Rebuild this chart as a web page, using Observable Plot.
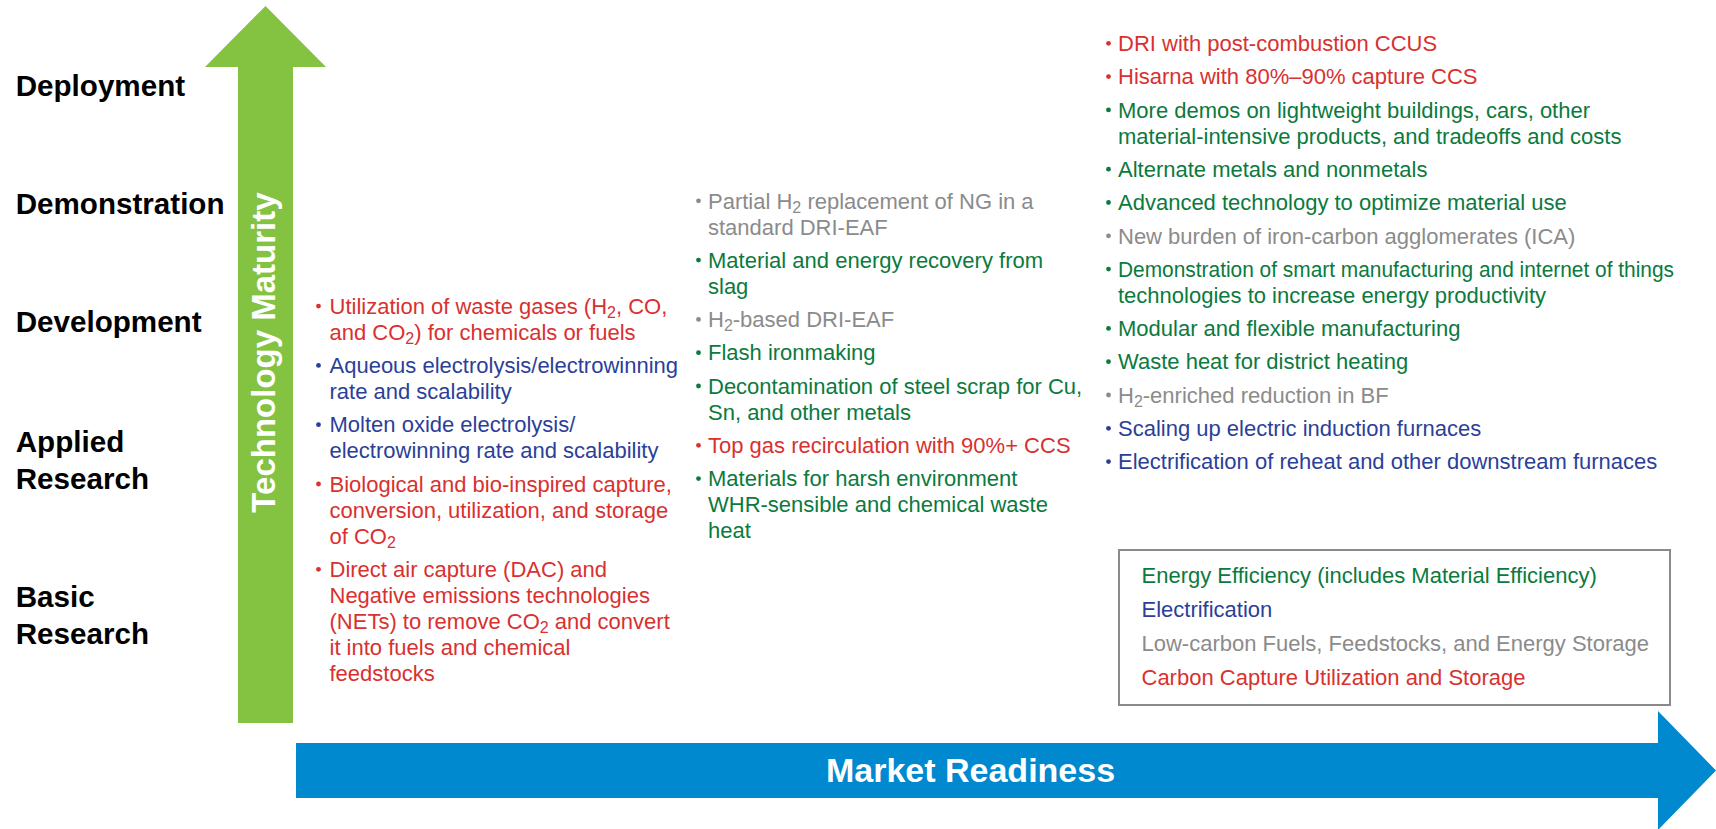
<!DOCTYPE html>
<html>
<head>
<meta charset="utf-8">
<script src="https://cdn.jsdelivr.net/npm/d3@7"></script>
<script src="https://cdn.jsdelivr.net/npm/@observablehq/plot@0.6"></script>
<style>
  html, body { margin: 0; padding: 0; background: #fff; overflow: hidden; }
  #chart svg { display: block; }
</style>
</head>
<body>
<div id="chart"></div>
<script>
// ---------------- DATA ----------------
const stageLabels = ["Deployment", "Demonstration", "Development", "Applied\nResearch", "Basic\nResearch"];

const axisTitles = ["Technology Maturity", "Market Readiness"];

const categoryKeys = ["EE", "EL", "LC", "CCUS"];
const categoryNames = [
  "Energy Efficiency (includes Material Efficiency)",
  "Electrification",
  "Low-carbon Fuels, Feedstocks, and Energy Storage",
  "Carbon Capture Utilization and Storage"
];

const col1Texts = [
  "Utilization of waste gases (H₂, CO,\nand CO₂) for chemicals or fuels",
  "Aqueous electrolysis/electrowinning\nrate and scalability",
  "Molten oxide electrolysis/\nelectrowinning rate and scalability",
  "Biological and bio-inspired capture,\nconversion, utilization, and storage\nof CO₂",
  "Direct air capture (DAC) and\nNegative emissions technologies\n(NETs) to remove CO₂ and convert\nit into fuels and chemical\nfeedstocks"
];
const col1Cats = ["CCUS", "EL", "EL", "CCUS", "CCUS"];

const col2Texts = [
  "Partial H₂ replacement of NG in a\nstandard DRI-EAF",
  "Material and energy recovery from\nslag",
  "H₂-based DRI-EAF",
  "Flash ironmaking",
  "Decontamination of steel scrap for Cu,\nSn, and other metals",
  "Top gas recirculation with 90%+ CCS",
  "Materials for harsh environment\nWHR-sensible and chemical waste\nheat"
];
const col2Cats = ["LC", "EE", "LC", "EE", "EE", "CCUS", "EE"];

const col3Texts = [
  "DRI with post-combustion CCUS",
  "Hisarna with 80%–90% capture CCS",
  "More demos on lightweight buildings, cars, other\nmaterial-intensive products, and tradeoffs and costs",
  "Alternate metals and nonmetals",
  "Advanced technology to optimize material use",
  "New burden of iron-carbon agglomerates (ICA)",
  "Demonstration of smart manufacturing and internet of things\ntechnologies to increase energy productivity",
  "Modular and flexible manufacturing",
  "Waste heat for district heating",
  "H₂-enriched reduction in BF",
  "Scaling up electric induction furnaces",
  "Electrification of reheat and other downstream furnaces"
];
const col3Cats = ["CCUS", "CCUS", "EE", "EE", "EE", "LC", "EE", "EE", "EE", "LC", "EL", "EL"];

// ---------------- STYLE / LAYOUT ----------------
const W = 1716, H = 829;
const FONT = "'Liberation Sans', Arial, Helvetica, sans-serif";
const categoryColors = ["#0b7a3e", "#2b3f99", "#8b8b8b", "#d8312f"];
const FS = 22, LINE = 26, STEP = 33.3;

const stageLayout = { x: 15.2, baselines: [95, 213, 331, 451, 606], fs: 29.6, line: 37 };
const columnLayout = [
  { bulletX: 318, textX: 329, first: 313.3 },
  { bulletX: 698, textX: 707.5, first: 208 },
  { bulletX: 1108, textX: 1117.5, first: 50.5 }
];
const legendLayout = { x1: 1119, x2: 1670, y1: 550, y2: 705, textX: 1141, first: 582, step: 34 };
const fitWidths = { "Demonstration of smart manufacturing and internet of things": 556 };
const greenArrowShape = [
  { y: 6, x1: 265.5, x2: 265.5 },
  { y: 67, x1: 205, x2: 326 },
  { y: 67, x1: 238, x2: 293 },
  { y: 723, x1: 238, x2: 293 }
];
const blueArrowShape = [
  { x: 296, y1: 743, y2: 798 },
  { x: 1658, y1: 743, y2: 798 },
  { x: 1658, y1: 711, y2: 830 },
  { x: 1716, y1: 770.5, y2: 770.5 }
];
const titleLayout = [
  { x: 274, y: 352, rotate: -90, fs: 33 },
  { x: 970, y: 781.5, rotate: 0, fs: 34 }
];

// ---------------- BUILD ----------------
function layoutColumn(texts, cats, L) {
  let y = L.first;
  return texts.map((t, i) => {
    const n = t.split("\n").length;
    const item = { text: t, cat: cats[i], x: L.textX, bx: L.bulletX, y0: y, yLast: y + (n - 1) * LINE };
    y += (n - 1) * LINE + STEP;
    return item;
  });
}
const items = [
  ...layoutColumn(col1Texts, col1Cats, columnLayout[0]),
  ...layoutColumn(col2Texts, col2Cats, columnLayout[1]),
  ...layoutColumn(col3Texts, col3Cats, columnLayout[2])
];

const stages = stageLabels.map((s, i) => ({
  text: s, x: stageLayout.x,
  y: stageLayout.baselines[i] + (s.split("\n").length - 1) * stageLayout.line
}));

const legendItems = categoryNames.map((name, i) => ({
  text: name, cat: categoryKeys[i], x: legendLayout.textX, y: legendLayout.first + i * legendLayout.step
}));

const titles = axisTitles.map((t, i) => ({ text: t, ...titleLayout[i] }));

const chart = Plot.plot({
  width: W, height: H,
  margin: 0,
  x: { domain: [0, W], range: [0, W], axis: null },
  y: { domain: [0, H], range: [0, H], axis: null },
  color: { domain: categoryKeys, range: categoryColors },
  style: { background: "#fff", overflow: "visible" },
  marks: [
    Plot.areaX(greenArrowShape, { y: "y", x1: "x1", x2: "x2", fill: "#84c341" }),
    Plot.areaY(blueArrowShape, { x: "x", y1: "y1", y2: "y2", fill: "#0089cf" }),
    Plot.text(titles.filter(d => d.rotate !== 0), {
      x: "x", y: "y", text: "text", rotate: -90, fill: "white", fontWeight: "bold",
      fontSize: titles[0].fs, fontFamily: FONT, textAnchor: "middle", lineAnchor: "bottom"
    }),
    Plot.text(titles.filter(d => d.rotate === 0), {
      x: "x", y: "y", text: "text", fill: "white", fontWeight: "bold",
      fontSize: titles[1].fs, fontFamily: FONT, textAnchor: "middle", lineAnchor: "bottom"
    }),
    Plot.text(stages, {
      x: "x", y: "y", text: "text", fill: "#000", fontWeight: "bold",
      fontSize: stageLayout.fs, lineHeight: stageLayout.line / stageLayout.fs,
      fontFamily: FONT, textAnchor: "start", lineAnchor: "bottom"
    }),
    Plot.dot(items, { x: "bx", y: d => d.y0 - 7.7, r: 2.4, fill: "cat", stroke: null }),
    Plot.text(items, {
      x: "x", y: "yLast", text: "text", fill: "cat",
      fontSize: FS, lineHeight: LINE / FS, fontFamily: FONT,
      textAnchor: "start", lineAnchor: "bottom"
    }),
    Plot.rect([legendLayout], {
      x1: "x1", x2: "x2", y1: "y1", y2: "y2", fill: "none", stroke: "#8a8a8a", strokeWidth: 2
    }),
    Plot.text(legendItems, {
      x: "x", y: "y", text: "text", fill: "cat",
      fontSize: FS, fontFamily: FONT, textAnchor: "start", lineAnchor: "bottom"
    })
  ]
});

// fit over-long lines to the reference width (as in the original)
function applyFitWidths(root) {
  root.querySelectorAll("text, tspan").forEach(el => {
    if (el.children.length === 0 && fitWidths[el.textContent] != null) {
      el.setAttribute("textLength", fitWidths[el.textContent]);
      el.setAttribute("lengthAdjust", "spacingAndGlyphs");
    }
  });
}
applyFitWidths(chart);

// real-text subscripts for "₂"
function applySubscripts(root) {
  const walker = document.createTreeWalker(root, NodeFilter.SHOW_TEXT);
  const nodes = [];
  while (walker.nextNode()) if (walker.currentNode.nodeValue.includes("₂")) nodes.push(walker.currentNode);
  for (const node of nodes) {
    const parts = node.nodeValue.split("₂");
    const frag = document.createDocumentFragment();
    parts.forEach((p, i) => {
      if (p) frag.appendChild(document.createTextNode(p));
      if (i < parts.length - 1) {
        const t = document.createElementNS("http://www.w3.org/2000/svg", "tspan");
        t.setAttribute("font-size", "16");
        t.setAttribute("baseline-shift", "-4");
        t.textContent = "2";
        frag.appendChild(t);
      }
    });
    node.parentNode.replaceChild(frag, node);
  }
}
applySubscripts(chart);

document.getElementById("chart").appendChild(chart);
</script>
</body>
</html>
